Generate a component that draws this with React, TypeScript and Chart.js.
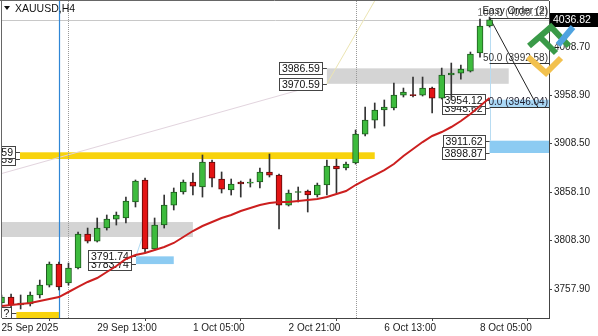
import React, { useEffect, useRef } from "react";
import { Chart, registerables } from "chart.js";

Chart.register(...registerables);

// ---- data (H4 XAUUSD candles) ----
const opens = [3743.4, 3749.6, 3741.3, 3742.4, 3751.7, 3762.0, 3783.8, 3764.1, 3779.7, 3814.9, 3807.6, 3821.1, 3830.4, 3831.5, 3848.1, 3870.9, 3799.4, 3824.2, 3844.9, 3858.4, 3868.8, 3863.6, 3889.5, 3871.9, 3860.5, 3868.8, 3867.7, 3868.8, 3879.2, 3876.0, 3844.9, 3857.9, 3859.5, 3855.3, 3865.7, 3885.4, 3883.3, 3888.5, 3918.5, 3933.0, 3943.4, 3945.5, 3958.9, 3959.5, 3958.9, 3966.2, 3955.8, 3979.7, 3981.7, 3983.8, 4002.5, 4030.5];
const highs = [3751.7, 3752.7, 3751.7, 3754.8, 3767.2, 3785.9, 3785.9, 3784.8, 3817.0, 3821.1, 3831.5, 3834.6, 3837.7, 3853.2, 3870.9, 3872.9, 3831.5, 3855.3, 3862.6, 3870.9, 3878.1, 3896.8, 3891.6, 3879.2, 3871.9, 3869.8, 3871.9, 3883.3, 3897.8, 3877.1, 3860.5, 3863.6, 3860.5, 3867.7, 3891.6, 3892.6, 3889.5, 3922.7, 3946.5, 3950.7, 3953.8, 3971.4, 3966.2, 3977.6, 3977.6, 3967.2, 3986.9, 3992.1, 3990.0, 4003.5, 4037.7, 4039.8];
const lows = [3741.3, 3739.2, 3737.2, 3740.3, 3748.6, 3760.0, 3756.9, 3762.0, 3778.6, 3805.6, 3806.6, 3819.0, 3824.2, 3826.3, 3842.9, 3795.2, 3798.3, 3821.1, 3839.8, 3856.3, 3855.3, 3853.2, 3863.6, 3857.4, 3855.3, 3853.2, 3863.6, 3862.6, 3874.0, 3820.1, 3843.9, 3848.1, 3837.7, 3853.2, 3855.3, 3857.4, 3881.2, 3887.4, 3916.5, 3924.7, 3926.8, 3943.4, 3956.9, 3956.9, 3957.9, 3940.3, 3954.8, 3953.8, 3975.5, 3982.8, 3998.3, 4029.4];
const closes = [3749.6, 3741.3, 3743.4, 3751.7, 3762.0, 3783.8, 3760.0, 3779.7, 3814.9, 3807.6, 3821.1, 3830.4, 3834.6, 3849.1, 3869.8, 3799.4, 3824.2, 3844.9, 3858.4, 3868.8, 3864.6, 3889.5, 3872.9, 3861.5, 3866.7, 3866.7, 3868.3, 3879.2, 3876.0, 3844.9, 3857.4, 3858.9, 3855.3, 3865.7, 3885.4, 3882.3, 3887.4, 3918.5, 3933.0, 3943.4, 3946.5, 3958.9, 3962.0, 3958.4, 3966.2, 3955.8, 3979.7, 3981.7, 3985.9, 4001.4, 4030.5, 4036.82];
const maValues = [3740.3, 3741.3, 3742.4, 3743.4, 3745.5, 3747.5, 3749.6, 3754.8, 3760.0, 3765.2, 3769.3, 3775.5, 3781.7, 3789.0, 3793.1, 3795.2, 3798.3, 3801.4, 3805.6, 3811.8, 3818.0, 3823.2, 3827.3, 3831.5, 3834.6, 3838.7, 3841.8, 3844.9, 3847.0, 3848.1, 3848.1, 3849.1, 3850.1, 3851.2, 3853.2, 3856.3, 3859.5, 3865.7, 3870.9, 3876.0, 3881.2, 3887.4, 3895.7, 3903.0, 3910.2, 3916.5, 3920.6, 3925.8, 3932.0, 3939.3, 3947.5, 3955.8];
const xTickIndex = [0, 10, 20, 30, 40, 50];
const xTickLabels = ["25 Sep 2025", "29 Sep 13:00", "1 Oct 05:00", "2 Oct 21:00", "6 Oct 13:00", "8 Oct 05:00"];
const yTickValues = [3757.9, 3808.3, 3858.1, 3908.5, 3958.9, 4008.7];
const bidPrice = 4036.82;
const fibLevels = [0, 50, 100];
const fibLow = 3946.04;
const fibHigh = 4039.12;

// ---- drawn objects (price zones with their price labels) ----
const zones = [
  { lo: 3892.59, hi: 3899.59, from: 1.93, to: 39.0, color: "#f8d30c", labels: [{ t: "3892.59", p: 3892.59 }, { t: "3899.59", p: 3899.59 }] },
  { lo: 3811.8, hi: 3827.3, from: -3, to: 20.0, color: "#d4d4d4", labels: [] },
  { lo: 3970.59, hi: 3986.59, from: 34.0, to: 53.0, color: "#d4d4d4", labels: [{ t: "3970.59", p: 3970.59 }, { t: "3986.59", p: 3986.59 }] },
  { lo: 3898.87, hi: 3911.62, from: 51.0, to: 62, color: "#8ccbf2", labels: [{ t: "3898.87", p: 3898.87 }, { t: "3911.62", p: 3911.62 }] },
  { lo: 3945.62, hi: 3954.12, from: 51.0, to: 62, color: "#a9d8f6", labels: [{ t: "3945.62", p: 3945.62 }, { t: "3954.12", p: 3954.12 }] },
  { lo: 3783.74, hi: 3791.74, from: 14.05, to: 18.0, color: "#8ccbf2", labels: [{ t: "3783.74", p: 3783.74 }, { t: "3791.74", p: 3791.74 }] },
  { lo: 3715, hi: 3734.1, from: 1.55, to: 6.0, color: "#f8d30c", labels: [{ t: "?", p: 3733.0 }] },
];

const FONT = '"Liberation Sans", Arial, sans-serif';

function seg(ctx: CanvasRenderingContext2D, x1: number, y1: number, x2: number, y2: number, color: string, w = 1, dash: number[] = []) {
  ctx.save();
  ctx.strokeStyle = color;
  ctx.lineWidth = w;
  ctx.setLineDash(dash);
  ctx.beginPath();
  ctx.moveTo(x1, y1);
  ctx.lineTo(x2, y2);
  ctx.stroke();
  ctx.restore();
}

function labelBox(ctx: CanvasRenderingContext2D, text: string, right: number, yc: number) {
  ctx.save();
  ctx.font = `10.5px ${FONT}`;
  const w = Math.round(ctx.measureText(text).width + 5);
  const h = 12;
  const l = Math.round(right - w);
  const t = Math.round(yc - h / 2);
  ctx.fillStyle = "#ffffff";
  ctx.fillRect(l, t, w, h);
  ctx.strokeStyle = "#444";
  ctx.lineWidth = 1;
  ctx.strokeRect(l + 0.5, t + 0.5, w, h);
  ctx.fillStyle = "#111";
  ctx.textAlign = "right";
  ctx.textBaseline = "middle";
  ctx.fillText(text, right - 2, yc + 1);
  ctx.restore();
}

const overlayPlugin = {
  id: "mtOverlay",
  beforeDraw(chart: any) {
    const ctx = chart.ctx;
    ctx.save();
    ctx.fillStyle = "#ffffff";
    ctx.fillRect(0, 0, chart.width, chart.height);
    ctx.restore();
  },
  beforeDatasetsDraw(chart: any) {
    const { ctx, chartArea: a, scales } = chart;
    const X = (v: number) => scales.x.getPixelForValue(v);
    const Y = (v: number) => scales.y.getPixelForValue(v);
    const r = (v: number) => Math.round(v) + 0.5;
    ctx.save();
    ctx.beginPath();
    ctx.rect(a.left, a.top, a.right - a.left, a.bottom - a.top);
    ctx.clip();

    // bid line
    seg(ctx, a.left, r(Y(bidPrice)), a.right, r(Y(bidPrice)), "#c8c8c8");

    // zones
    zones.forEach((z) => {
      ctx.fillStyle = z.color;
      const x1 = X(z.from), x2 = X(z.to);
      ctx.fillRect(x1, Y(z.hi), x2 - x1, Y(z.lo) - Y(z.hi));
    });

    // faint trend lines
    seg(ctx, X(-0.16), Y(3877.1), X(31.5), Y(3965.2), "#e2d4de");
    seg(ctx, X(34.0), Y(3970.59), X(39.2), Y(4060), "#ece5b2");
    seg(ctx, X(14.05), Y(3791.74), X(15.2), Y(3826), "#b4dcf4");
    seg(ctx, r(X(51)), Y(fibHigh), r(X(51)), Y(3911.62), "#b8dcf2");

    // vertical lines
    seg(ctx, r(X(6)), a.top, r(X(6)), a.bottom, "#2f86d6", 1.2);
    seg(ctx, r(X(7)), a.top, r(X(7)), a.bottom, "#999", 1, [1, 1]);
    seg(ctx, r(X(37)), a.top, r(X(37)), a.bottom, "#999", 1, [1, 1]);

    // fibonacci
    fibLevels.forEach((lv) => {
      const p = fibLow + ((fibHigh - fibLow) * lv) / 100;
      seg(ctx, X(51), r(Y(p)), a.right, r(Y(p)), "#333");
    });
    seg(ctx, X(51), Y(fibHigh), X(56.06), Y(fibLow), "#222");
    ctx.font = `10px ${FONT}`;
    ctx.textAlign = "right";
    ctx.textBaseline = "alphabetic";
    fibLevels.forEach((lv) => {
      const p = fibLow + ((fibHigh - fibLow) * lv) / 100;
      ctx.fillStyle = lv === 100 ? "#666" : lv === 0 ? "#223" : "#333";
      ctx.fillText(`${lv.toFixed(1)} (${p.toFixed(2)})`, a.right - 1, Y(p) - 2);
    });
    ctx.fillStyle = "#222";
    ctx.fillText("Easy Order (2)", a.right - 1, Y(fibHigh) - 4);

    // price labels of zones
    zones.forEach((z) => {
      const right = X(z.from) - 5;
      z.labels.forEach((lb) => {
        seg(ctx, right, r(Y(lb.p)), X(z.from), r(Y(lb.p)), "#444");
        labelBox(ctx, lb.t, right, Y(lb.p));
      });
    });

    ctx.restore();
  },
  afterDraw(chart: any) {
    const { ctx, chartArea: a, scales } = chart;
    const Y = (v: number) => scales.y.getPixelForValue(v);
    ctx.save();
    // frame
    seg(ctx, 0, 0.5, a.right, 0.5, "#666");
    seg(ctx, 1.5, 0, 1.5, a.bottom, "#666");
    // title
    ctx.fillStyle = "#111";
    ctx.beginPath();
    ctx.moveTo(4, 6);
    ctx.lineTo(10, 6);
    ctx.lineTo(7, 10);
    ctx.closePath();
    ctx.fill();
    ctx.font = `10.5px ${FONT}`;
    ctx.textAlign = "left";
    ctx.textBaseline = "middle";
    ctx.fillText("XAUUSD,H4", 15, 9);
    // current price tag
    const yb = Y(bidPrice);
    ctx.fillStyle = "#000";
    ctx.fillRect(a.right + 1, Math.round(yb - 7), 598 - a.right - 1, 14);
    ctx.fillStyle = "#fff";
    ctx.font = `10.5px ${FONT}`;
    ctx.fillText(bidPrice.toFixed(2), a.right + 4, yb + 0.5);
    // logo
    ctx.lineWidth = 6;
    ctx.lineCap = "butt";
    ctx.lineJoin = "miter";
    ctx.strokeStyle = "#3a9a48";
    ctx.beginPath();
    ctx.moveTo(529, 46);
    ctx.lineTo(551, 27);
    ctx.lineTo(569, 46);
    ctx.stroke();
    ctx.beginPath();
    ctx.moveTo(540, 37);
    ctx.lineTo(556, 53);
    ctx.stroke();
    ctx.strokeStyle = "#4fa3e0";
    ctx.beginPath();
    ctx.moveTo(558, 45);
    ctx.lineTo(573, 27);
    ctx.stroke();
    ctx.strokeStyle = "#f2c14e";
    ctx.beginPath();
    ctx.moveTo(528, 57);
    ctx.lineTo(546, 73);
    ctx.lineTo(561, 58);
    ctx.stroke();
    ctx.restore();
  },
};

export default function App() {
  const ref = useRef<HTMLCanvasElement | null>(null);
  useEffect(() => {
    if (!ref.current) return;
    const up = (i: number) => closes[i] >= opens[i];
    const chart = new Chart(ref.current, {
      type: "bar",
      data: {
        datasets: [
          {
            type: "line",
            data: maValues.map((v, i) => ({ x: i, y: v })),
            borderColor: "#cc1f1f",
            borderWidth: 2,
            pointRadius: 0,
            tension: 0,
            order: 0,
          } as any,
          {
            type: "bar",
            data: opens.map((o, i) => ({ x: i, y: [o, closes[i]] })),
            barThickness: 6,
            grouped: false,
            borderSkipped: false,
            minBarLength: 1,
            borderWidth: 1,
            backgroundColor: (c: any) => (up(c.dataIndex) ? "#3dbb3d" : "#e31414"),
            borderColor: (c: any) => (up(c.dataIndex) ? "#1d5a1d" : "#5a0a0a"),
            order: 1,
          } as any,
          {
            type: "bar",
            data: lows.map((l, i) => ({ x: i, y: [l, highs[i]] })),
            barThickness: 1,
            grouped: false,
            borderWidth: 0,
            backgroundColor: "#333",
            order: 2,
          } as any,
        ],
      },
      options: {
        responsive: false,
        maintainAspectRatio: false,
        animation: false,
        layout: { padding: { left: 2, top: 1, right: 0, bottom: 0 } },
        plugins: { legend: { display: false }, tooltip: { enabled: false } },
        scales: {
          x: {
            type: "linear",
            min: 0.052,
            max: 57.21,
            offset: false,
            afterBuildTicks: (s: any) => {
              s.ticks = xTickIndex.map((v) => ({ value: v }));
            },
            afterFit: (s: any) => {
              s.height = 18;
              s.paddingLeft = 0;
              s.paddingRight = 0;
            },
            grid: { display: true, drawOnChartArea: false, drawTicks: true, tickLength: 3, color: "#444" },
            border: { display: true, color: "#444" },
            ticks: {
              autoSkip: false,
              maxRotation: 0,
              minRotation: 0,
              align: "start",
              padding: 1,
              color: "#222",
              font: { family: FONT, size: 10 },
              callback: (v: any) => {
                const k = xTickIndex.indexOf(Number(v));
                return k >= 0 ? xTickLabels[k] : "";
              },
            },
          },
          y: {
            type: "linear",
            position: "right",
            min: 3727.85,
            max: 4056.4,
            afterBuildTicks: (s: any) => {
              s.ticks = yTickValues.map((v) => ({ value: v }));
            },
            afterFit: (s: any) => {
              s.width = 49;
              s.paddingTop = 0;
              s.paddingBottom = 0;
            },
            grid: { display: true, drawOnChartArea: false, drawTicks: true, tickLength: 3, color: "#444" },
            border: { display: true, color: "#444" },
            ticks: {
              padding: 2,
              color: "#222",
              font: { family: FONT, size: 10 },
              callback: (v: any) => Number(v).toFixed(2),
            },
          },
        },
      } as any,
      plugins: [overlayPlugin],
    });
    return () => chart.destroy();
  }, []);
  return (
    <div style={{ position: "fixed", left: 0, top: 0, width: 598, height: 336, background: "#fff" }}>
      <canvas ref={ref} width={598} height={336} style={{ display: "block", width: 598, height: 336 }} />
    </div>
  );
}
